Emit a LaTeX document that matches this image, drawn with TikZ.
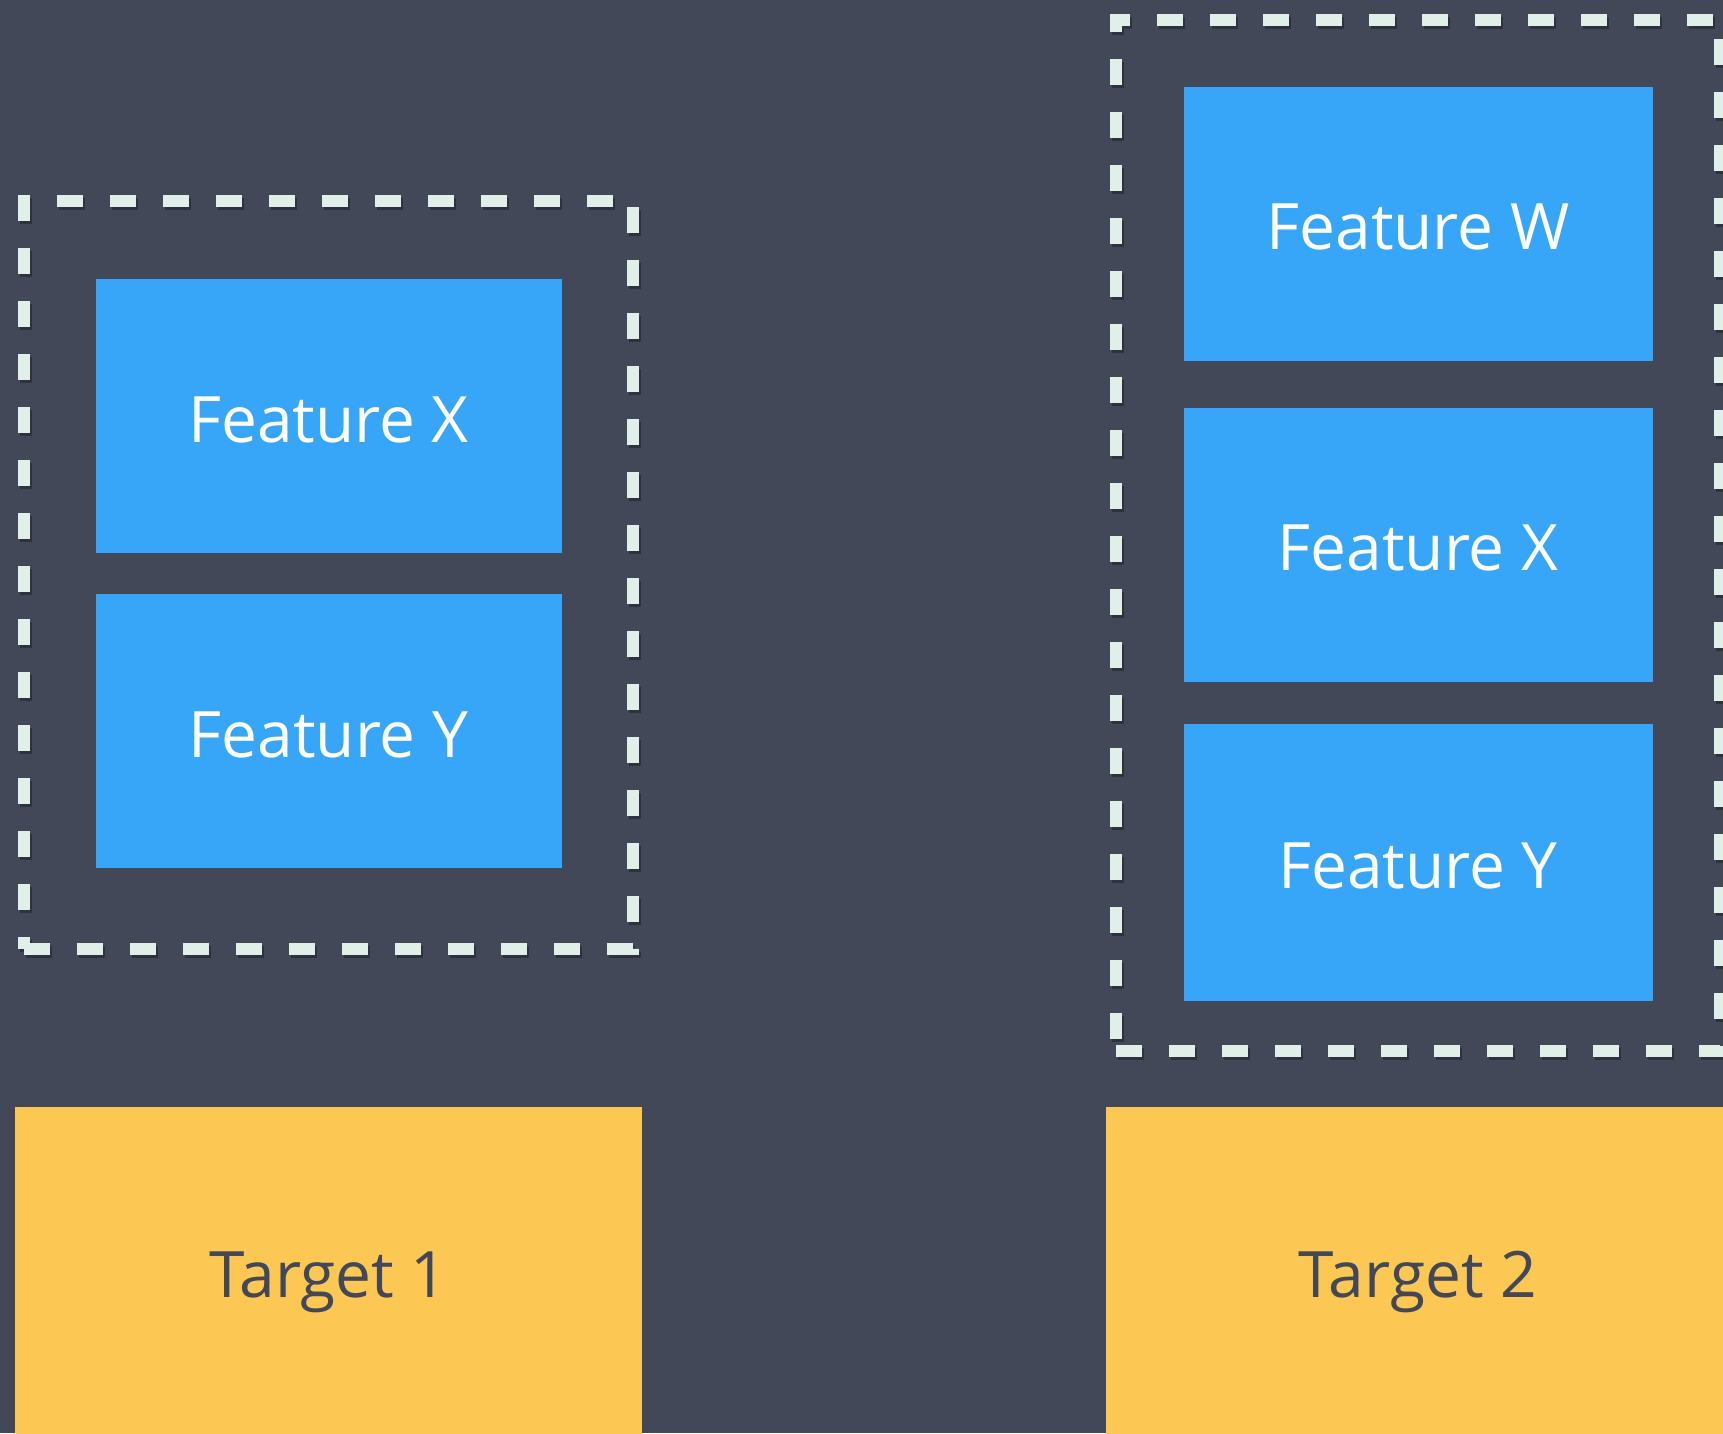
\documentclass[tikz,border=0pt]{standalone}
\usepackage{fontspec}
\setmainfont{Open Sans}
\definecolor{bgc}{RGB}{66,72,88}
\definecolor{blu}{RGB}{56,166,248}
\definecolor{yel}{RGB}{252,199,83}
\definecolor{dsh}{RGB}{224,240,232}
\begin{document}
\begin{tikzpicture}[x=1pt,y=-1pt,
  feat/.style={fill=blu, draw=none, inner sep=0pt, outer sep=0pt, text=white,
    font=\fontsize{64}{70}\selectfont, text height=52pt, text depth=0pt},
  targ/.style={fill=yel, draw=none, inner sep=0pt, outer sep=0pt, text=bgc,
    font=\fontsize{64}{70}\selectfont, text depth=0pt},
  grp/.style={draw=dsh, line width=12pt, dash pattern=on 26pt off 27pt, inner sep=0pt, outer sep=0pt},
  grpshadow/.style={draw=black, draw opacity=0.3, line width=12pt, dash pattern=on 26pt off 27pt, inner sep=0pt, outer sep=0pt}
  ]
\fill[bgc] (0,0) rectangle (1723,1433);
\useasboundingbox (0,0) rectangle (1723,1433);
% left group
\node[grpshadow, minimum width=609pt, minimum height=748.5pt] (g1s) at (330.5,578) {};
\node[grp, minimum width=609pt, minimum height=748.5pt] (g1) at (328.5,575) {};
\node[feat, minimum width=466pt, minimum height=274pt] (lx) at (328.5,416) {Feature X};
\node[feat, minimum width=466pt, minimum height=274pt] (ly) at (328.5,731) {Feature Y};
% right group
\node[grpshadow, minimum width=604.5pt, minimum height=1031pt] (g2s) at (1419.75,538) {};
\node[grp, minimum width=604.5pt, minimum height=1031pt] (g2) at (1417.75,535) {};
\node[feat, minimum width=469pt, minimum height=274pt] (rw) at (1418,223.6) {Feature W};
\node[feat, minimum width=469pt, minimum height=274pt] (rx) at (1418,544.5) {Feature X};
\node[feat, minimum width=469pt, minimum height=277pt] (ry) at (1418,862.7) {Feature Y};
% targets
\node[targ, minimum width=626.4pt, minimum height=336.2pt] (t1) at (328.6,1274.7) {Target 1};
\node[targ, minimum width=624.5pt, minimum height=336.2pt] (t2) at (1417.75,1274.7) {Target 2};
\end{tikzpicture}
\end{document}
